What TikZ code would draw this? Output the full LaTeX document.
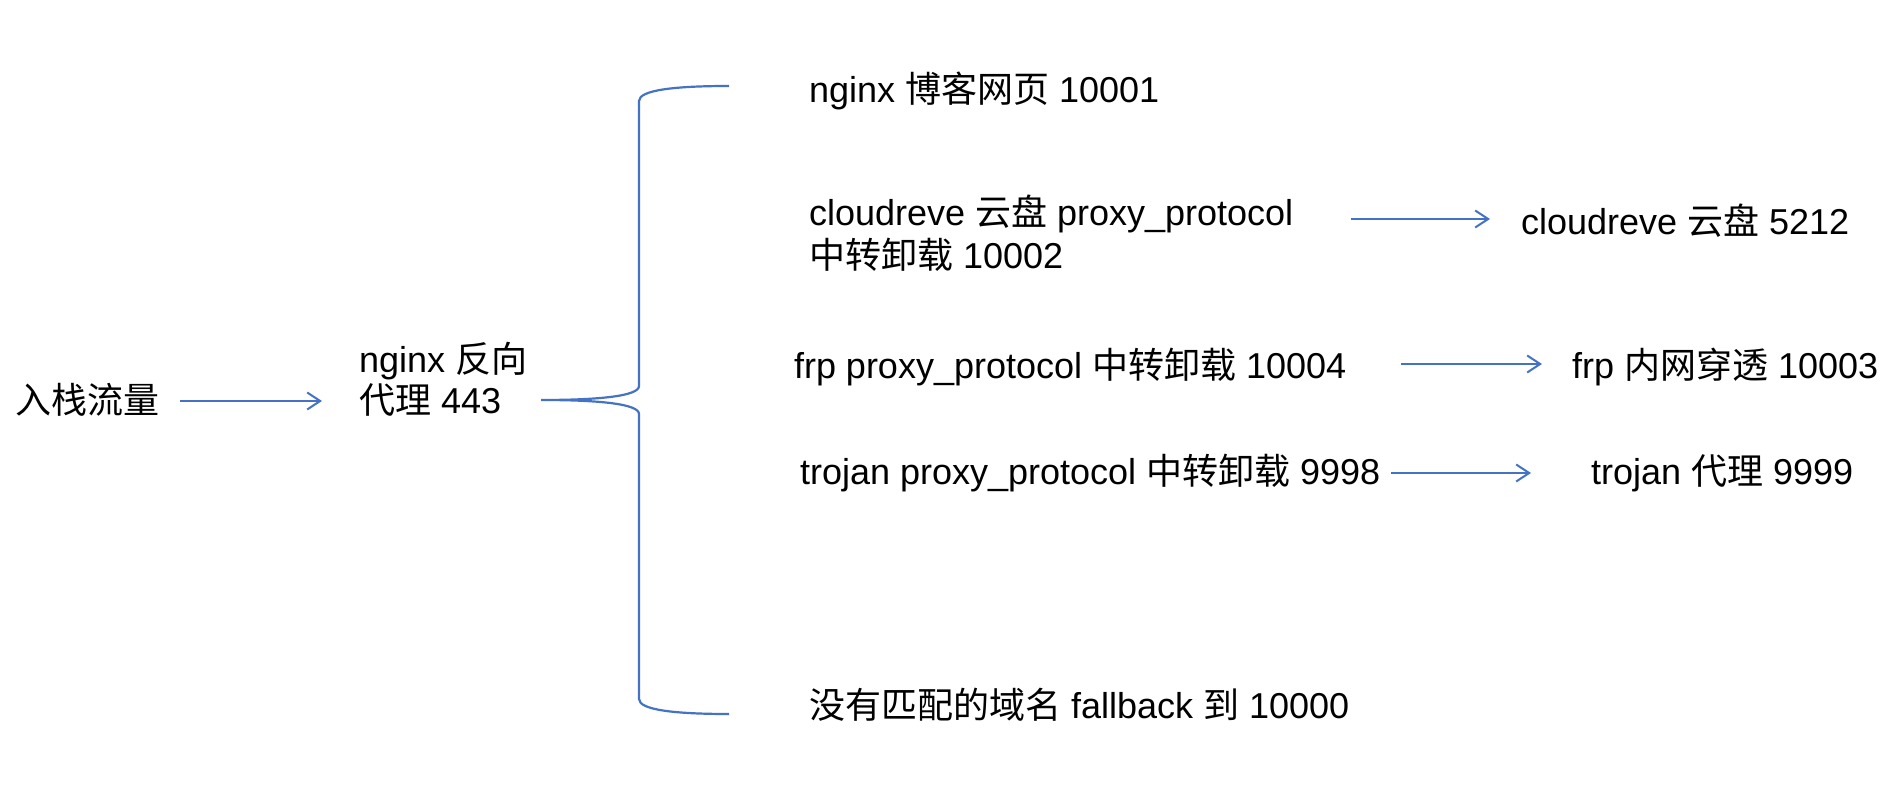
\documentclass[tikz,border=0pt]{standalone}
\usepackage{fontspec}
\setmainfont{Liberation Sans}
\newfontfamily\cjk{Noto Sans CJK SC}
\usetikzlibrary{arrows.meta}
\definecolor{lineblue}{HTML}{4472C4}
\tikzset{
  lbl/.style={anchor=base west, inner sep=0pt, outer sep=0pt, align=left,
              font=\fontsize{18}{21}\selectfont},
  arr/.style={draw=lineblue, line width=1pt, -{Straight Barb[length=6.5pt,width=8.5pt]}},
  bracestyle/.style={draw=lineblue, line width=1.1pt}
}
\begin{document}
\begin{tikzpicture}[x={(0.5pt,0)}, y={(0,-0.5pt)}]
\useasboundingbox[fill=white] (0,0) rectangle (1890,806);

% nodes (base anchor of a two-line node is the baseline of its last line)
\node[lbl] (in) at (15,414) {{\cjk 入栈流量}};
\node[lbl, font=\fontsize{18}{20.5}\selectfont] (ng) at (359,414) {nginx {\cjk 反向}\\{\cjk 代理} 443};
\node[lbl] (b1) at (809,103) {nginx {\cjk 博客网页} 10001};
\node[lbl, font=\fontsize{18}{21.5}\selectfont] (b2) at (809,269) {cloudreve {\cjk 云盘} proxy\_protocol\\{\cjk 中转卸载} 10002};
\node[lbl] (b3) at (794,379) {frp proxy\_protocol {\cjk 中转卸载} 10004};
\node[lbl] (b4) at (800,485) {trojan proxy\_protocol {\cjk 中转卸载} 9998};
\node[lbl] (b5) at (809,718) {{\cjk 没有匹配的域名} fallback {\cjk 到} 10000};
\node[lbl] (t2) at (1521,235) {cloudreve {\cjk 云盘} 5212};
\node[lbl] (t3) at (1572,379) {frp {\cjk 内网穿透} 10003};
\node[lbl] (t4) at (1591,485) {trojan {\cjk 代理} 9999};

% connector midpoints
\coordinate (inm) at ([yshift=6.5pt]in.base east);
\coordinate (t2m) at ([yshift=8pt]t2.base west);
\coordinate (t3m) at ([yshift=7.5pt]t3.base west);
\coordinate (t4m) at ([yshift=6pt]t4.base west);

\draw[arr, shorten <=10.5pt, shorten >=18.5pt] (inm) -- (inm -| ng.west);
\draw[arr, shorten <=29pt, shorten >=15.5pt] (b2.east |- t2m) -- (t2m);
\draw[arr, shorten <=27.5pt, shorten >=15pt] (b3.east |- t3m) -- (t3m);
\draw[arr, shorten <=5.5pt, shorten >=30pt] (b4.east |- t4m) -- (t4m);

% brace
\coordinate (brtip) at (541,400);
\draw[bracestyle]
  (729,86) .. controls (675,86) and (639,90) .. (639,101)
  -- (639,386)
  .. controls (639,396) and (600,400) .. (brtip)
  .. controls (600,400) and (639,404) .. (639,414)
  -- (639,699)
  .. controls (639,710) and (675,714) .. (729,714);
\end{tikzpicture}
\end{document}
